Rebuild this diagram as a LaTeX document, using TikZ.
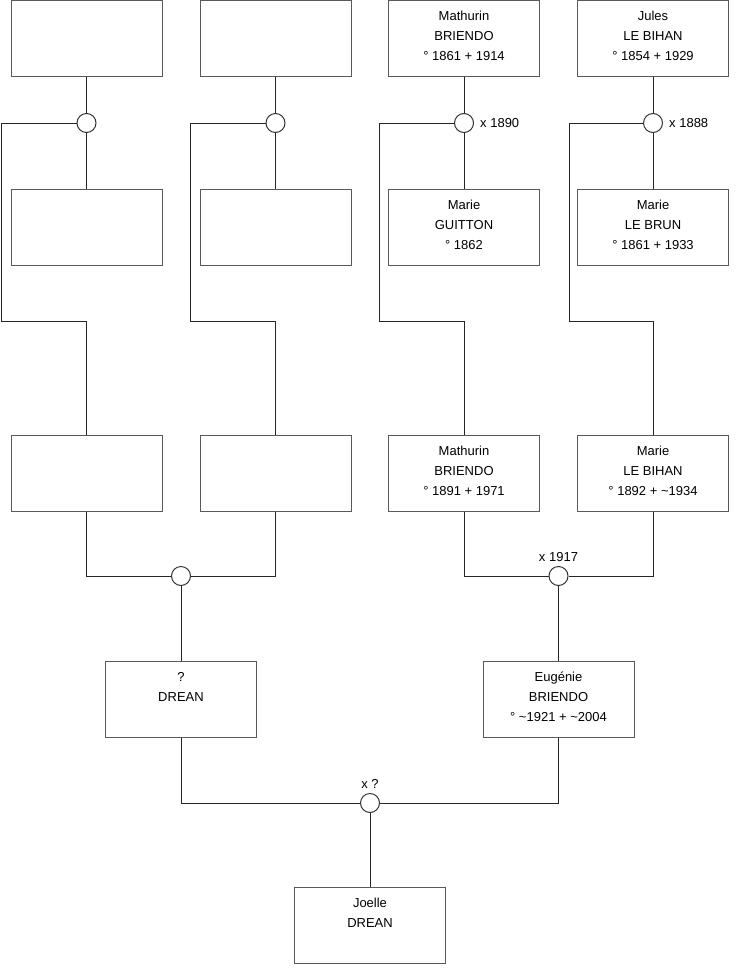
\documentclass[tikz,border=0pt]{standalone}
\usepackage{fontspec}
\setmainfont{Liberation Sans}
% Fiche d'une personne : texte calé en haut du cadre
\newcommand\fiche[1]{\parbox[c][76pt][t]{151pt}{\centering\vspace*{6pt}\strut#1}}

\begin{document}
\begin{tikzpicture}[x=1pt,y=-1pt,
      personne/.style={draw=black!65,line width=1pt,inner sep=0pt,
        minimum width=151pt,minimum height=76pt,
        font=\fontsize{13}{20}\selectfont},
      union/.style={draw=black!80,fill=white,circle,line width=1pt,
        inner sep=0pt,minimum size=19pt},
      mariage/.style={font=\fontsize{13}{16}\selectfont,inner sep=1pt},
      lien/.style={draw=black!85,line width=1pt}]
    \useasboundingbox (0,0) rectangle (740,975);

    % Arrière-grands-pères
    \node[personne] (p1) at (86.5,38) {\fiche{}};
    \node[personne] (p2) at (275.5,38) {\fiche{}};
    \node[personne] (p3) at (464,38)
      {\fiche{Mathurin\\BRIENDO\\° 1861 + 1914}};
    \node[personne] (p4) at (653,38)
      {\fiche{Jules\\LE BIHAN\\° 1854 + 1929}};

    % Unions du haut
    \node[union] (u1) at (86.5,123) {};
    \node[union] (u2) at (275.5,123) {};
    \node[union,label={[mariage,label distance=5pt]right:x 1890}]
      (u3) at (464,123) {};
    \node[union,label={[mariage,label distance=5pt]right:x 1888}]
      (u4) at (653,123) {};

    % Arrière-grands-mères
    \node[personne] (q1) at (86.5,227) {\fiche{}};
    \node[personne] (q2) at (275.5,227) {\fiche{}};
    \node[personne] (q3) at (464,227) {\fiche{Marie\\GUITTON\\° 1862}};
    \node[personne] (q4) at (653,227)
      {\fiche{Marie\\LE BRUN\\° 1861 + 1933}};

    % Grands-parents
    \node[personne] (e1) at (86.5,473) {\fiche{}};
    \node[personne] (e2) at (275.5,473) {\fiche{}};
    \node[personne] (e3) at (464,473)
      {\fiche{Mathurin\\BRIENDO\\° 1891 + 1971}};
    \node[personne] (e4) at (653,473)
      {\fiche{Marie\\LE BIHAN\\° 1892 + \textasciitilde1934}};

    \node[union] (v1) at (181,576) {};
    \node[union,label={[mariage,label distance=3pt]above:x 1917}]
      (v2) at (558.5,576) {};

    % Parents
    \node[personne] (g1) at (181,699) {\fiche{?\\DREAN}};
    \node[personne] (g2) at (558.5,699)
      {\fiche{Eugénie\\BRIENDO\\° \textasciitilde1921 + \textasciitilde2004}};

    \node[union,label={[mariage,label distance=3pt]above:x ?}]
      (w) at (370,803) {};

    \node[personne] (moi) at (370,925) {\fiche{Joelle\\DREAN}};

    % Liens des couples du haut
    \foreach \a/\u/\b in {p1/u1/q1, p2/u2/q2, p3/u3/q3, p4/u4/q4}
      {\draw[lien] (\a) -- (\u) (\u) -- (\b);}
    \foreach \u/\e/\x in {u1/e1/1.5, u2/e2/190, u3/e3/379, u4/e4/569}
      {\draw[lien] (\u.west) -| (\x,321.5) -| (\e.north);}

    % Grands-parents vers parents
    \draw[lien] (e1.south) |- (v1.west);
    \draw[lien] (e2.south) |- (v1.east);
    \draw[lien] (e3.south) |- (v2.west);
    \draw[lien] (e4.south) |- (v2.east);
    \draw[lien] (v1) -- (g1);
    \draw[lien] (v2) -- (g2);

    % Parents vers Joelle
    \draw[lien] (g1.south) |- (w.west);
    \draw[lien] (g2.south) |- (w.east);
    \draw[lien] (w) -- (moi);
  \end{tikzpicture}
\end{document}
